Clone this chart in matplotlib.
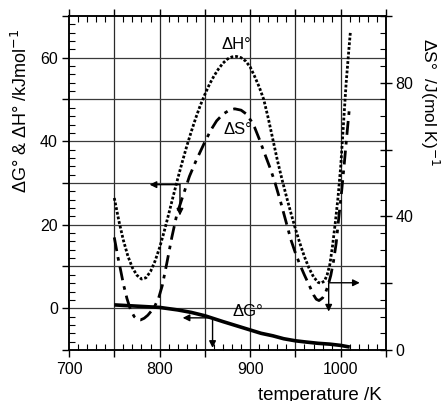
import numpy as np
import matplotlib.pyplot as plt
from matplotlib.ticker import MultipleLocator, FuncFormatter

plt.rcParams['font.family'] = ['Liberation Sans', 'DejaVu Sans']

# ---- data ----
# dH (kJ/mol, left axis), dotted
T_H = [750, 755, 760, 765, 770, 775, 780, 785, 790, 795, 800, 805, 810, 815, 820,
       825, 830, 835, 840, 845, 850, 855, 860, 865, 870, 875, 880, 885, 890, 895,
       900, 905, 910, 915, 920, 925, 930, 935, 940, 945, 950, 955, 960, 965, 970,
       975, 978, 982, 985, 988, 991, 994, 997, 1000, 1003, 1006, 1009, 1010.6]
dH = [26.4, 21.0, 16.3, 12.5, 9.7, 7.9, 7.0, 7.3, 8.8, 11.3, 14.5, 18.3, 22.5, 26.8, 31.0,
      35.0, 38.8, 42.3, 45.6, 48.6, 51.2, 53.6, 55.6, 57.3, 58.7, 59.7, 60.2, 60.3, 60.0, 59.2,
      57.8, 55.5, 53.0, 50.0, 45.5, 40.5, 35.5, 31.0, 26.8, 22.8, 19.0, 15.5, 12.3, 9.6, 7.5,
      6.2, 6.0, 6.5, 8.0, 10.5, 15.0, 20.5, 26.5, 34.0, 44.0, 54.0, 62.0, 66.0]

# dS (J/(mol K), right axis), dash-dot
T_S = [750, 754, 757, 760, 764, 768, 772, 776, 779, 783, 787, 791, 795, 799, 803,
       808, 813.5, 819, 825, 833, 840, 850, 857, 863, 870, 877, 883, 890, 896, 901,
       905, 910, 916, 922, 927, 934, 940, 945, 950, 955, 960, 965, 970, 973, 976,
       980, 983, 986, 989, 992, 995, 998, 1001, 1004, 1007, 1009.8]
dS = [33.7, 27.8, 23.9, 19.8, 15.4, 12.0, 10.0, 9.1, 9.0, 9.5, 10.4, 11.7, 13.3, 15.6, 19.3,
      26.0, 33.7, 40.5, 45.5, 52.0, 56.5, 62.3, 66.0, 68.6, 70.6, 71.8, 72.2, 71.8, 70.6, 68.6,
      66.6, 63.2, 58.8, 54.5, 50.5, 44.0, 38.0, 33.0, 29.0, 25.5, 22.4, 19.5, 16.5, 15.2, 14.8,
      15.6, 17.0, 19.3, 22.3, 26.5, 32.0, 40.0, 47.5, 56.0, 65.0, 73.0]

# dG (kJ/mol, left axis), solid
T_G = [750, 775, 800, 820, 835, 850, 860, 870, 885, 900, 912, 925, 937, 950, 962,
       975, 988, 1000, 1010]
dG = [0.8, 0.5, 0.2, -0.4, -1.0, -1.8, -2.5, -3.2, -4.2, -5.2, -6.0, -6.6, -7.3, -7.8, -8.1,
      -8.4, -8.6, -8.9, -9.3]

fig = plt.figure(figsize=(4.44, 4.01), dpi=100)
ax = fig.add_axes([0.1554, 0.1272, 0.714, 0.833])
ax2 = ax.twinx()

ax.set_xlim(700, 1050)
ax.set_ylim(-10, 70)
ax2.set_ylim(0, 100)

# grid
for t in [750, 800, 850, 900, 950, 1000]:
    ax.axvline(t, color='#2a2a2a', lw=0.9, zorder=0)
for v in range(0, 70, 10):
    ax.axhline(v, color='#3a3a3a', lw=0.9, zorder=0)

ax.plot(T_H, dH, color='black', lw=2.0, linestyle=(0, (1, 0.7)), zorder=3)
ax.plot(T_G, dG, color='black', lw=2.6, solid_capstyle='butt', zorder=3)
ax2.plot(T_S, dS, color='black', lw=2.0, linestyle=(0, (5, 2.2, 1.3, 2.2)), zorder=3)

# ticks
ax.xaxis.set_major_locator(MultipleLocator(50))
ax.xaxis.set_minor_locator(MultipleLocator(10))
ax.yaxis.set_major_locator(MultipleLocator(10))
ax.yaxis.set_minor_locator(MultipleLocator(2))
ax2.yaxis.set_major_locator(MultipleLocator(20))
ax2.yaxis.set_minor_locator(MultipleLocator(5))

ax.xaxis.set_major_formatter(FuncFormatter(lambda v, p: f'{v:.0f}' if v % 100 == 0 else ''))
ax.yaxis.set_major_formatter(FuncFormatter(lambda v, p: f'{v:.0f}' if v % 20 == 0 else ''))
ax2.yaxis.set_major_formatter(FuncFormatter(lambda v, p: f'{v:.0f}' if v % 40 == 0 else ''))

ax.tick_params(axis='x', which='major', direction='out', length=5, width=1,
               top=True, labelsize=11.5, pad=4)
ax.tick_params(axis='x', which='minor', direction='in', length=4, width=0.8, top=True)
ax.tick_params(axis='y', which='major', direction='out', length=5, width=1,
               labelsize=11.5, pad=3)
ax.tick_params(axis='y', which='minor', direction='in', length=4, width=0.8)
ax2.tick_params(axis='y', which='major', direction='inout', length=8, width=1,
                labelsize=11.5, pad=3)
ax2.tick_params(axis='y', which='minor', direction='in', length=4, width=0.8)

for a in (ax, ax2):
    for s in a.spines.values():
        s.set_linewidth(1.1)

# curve labels
ax.text(885, 63.2, 'ΔH°', fontsize=12, ha='center', va='center')
ax.text(887, 42.8, 'ΔS°', fontsize=12, ha='center', va='center')
ax.text(897, -0.9, 'ΔG°', fontsize=12, ha='center', va='center')

# arrows pointing to the axis each curve belongs to
arr = dict(arrowstyle='-|>', color='black', lw=1, mutation_scale=10, shrinkA=0, shrinkB=0)
ax.annotate('', xy=(789, 29.6), xytext=(822.5, 29.6), arrowprops=arr)
ax.annotate('', xy=(822.5, 22.2), xytext=(822.5, 29.6), arrowprops=arr)
ax.annotate('', xy=(825.5, -2.3), xytext=(858.5, -2.3), arrowprops=arr)
ax.annotate('', xy=(858.5, -9.5), xytext=(858.5, -2.3), arrowprops=arr)
ax.annotate('', xy=(1021, 6.1), xytext=(986.7, 6.1), arrowprops=arr, annotation_clip=False)
ax.annotate('', xy=(986.7, -0.8), xytext=(986.7, 6.1), arrowprops=arr)

# axis labels
fig.text(0.047, 0.723, 'ΔG° & ΔH° /kJmol$^{-1}$', rotation=90, fontsize=13,
         ha='center', va='center')
fig.text(0.968, 0.745, 'ΔS°  /J(mol K)$^{-1}$', rotation=270, fontsize=12.5,
         ha='center', va='center')
fig.text(0.72, 0.035, 'temperature /K', fontsize=13.5, ha='center', va='top')

fig.savefig('out.png', dpi=100)
